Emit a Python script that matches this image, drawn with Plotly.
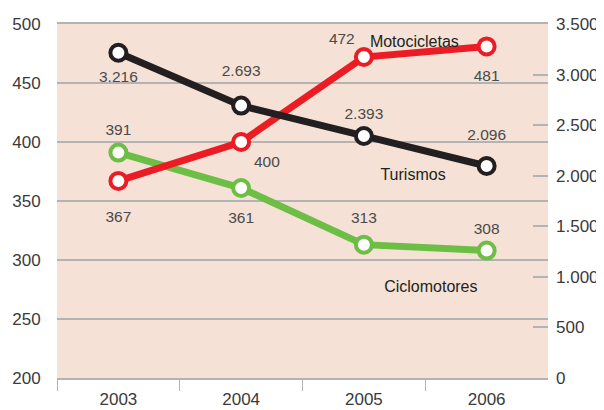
import plotly.graph_objects as go

years = ["2003", "2004", "2005", "2006"]
motocicletas = [367, 400, 472, 481]
ciclomotores = [391, 361, 313, 308]
turismos = [3216, 2693, 2393, 2096]
series_names = ["Turismos", "Motocicletas", "Ciclomotores"]

left_ticks = [200, 250, 300, 350, 400, 450, 500]
right_ticks = [0, 500, 1000, 1500, 2000, 2500, 3000, 3500]

RED = "#ec1c24"
GREEN = "#6dbe45"
BLACK = "#231f20"
BG = "#f5e1d6"
GRID = "#b3b3b3"
TXT = "#4a4a4a"
TICK = "#3a3a3a"
FONT = "Liberation Sans, Arial, sans-serif"
NB = "\u00a0"

# label placement styles (invisible marker size sets the text offset)
t_pos = ["bottom center", "top center", "top center", "top center"]
t_pad = [27, 39, 20, 34]
m_pos = ["bottom center", "bottom right", "top left", "bottom center"]
m_pad = [46, 19, 13, 35]
c_pos = ["top center", "bottom center", "top center", "top center"]
c_pad = [21, 35, 27, 19]


def fmt(v):
    return f"{v:,}".replace(",", ".")


fig = go.Figure()


def add_series(vals, color, yaxis):
    fig.add_trace(go.Scatter(
        x=years, y=vals, yaxis=yaxis, mode="lines+markers",
        line=dict(color=color, width=7),
        marker=dict(size=16, color="white", line=dict(color=color, width=4)),
        hoverinfo="skip", showlegend=False, cliponaxis=False,
    ))


def add_labels(vals, yaxis, pos, pad):
    fig.add_trace(go.Scatter(
        x=years, y=vals, yaxis=yaxis, mode="markers+text",
        text=[fmt(v) for v in vals], textposition=pos,
        textfont=dict(family=FONT, size=15.5, color=TXT),
        marker=dict(size=pad, color="rgba(0,0,0,0)", line=dict(width=0)),
        hoverinfo="skip", showlegend=False, cliponaxis=False,
    ))


def add_name(idx, vals, yaxis, text, pos, pad):
    fig.add_trace(go.Scatter(
        x=[years[idx]], y=[vals[idx]], yaxis=yaxis, mode="markers+text",
        text=[text], textposition=pos,
        textfont=dict(family=FONT, size=16, color=BLACK),
        marker=dict(size=pad, color="rgba(0,0,0,0)", line=dict(width=0)),
        hoverinfo="skip", showlegend=False, cliponaxis=False,
    ))


add_series(turismos, BLACK, "y2")
add_series(ciclomotores, GREEN, "y")
add_series(motocicletas, RED, "y")
add_labels(turismos, "y2", t_pos, t_pad)
add_labels(motocicletas, "y", m_pos, m_pad)
add_labels(ciclomotores, "y", c_pos, c_pad)

add_name(3, turismos, "y2", NB + "<br>" + series_names[0], "middle left", 64)
add_name(2, motocicletas, "y", series_names[1], "top right", 8)
add_name(3, ciclomotores, "y", NB + "<br>" + series_names[2], "bottom left", 13)

# boundary ticks between year categories (none at the right edge)
boundaries = [i - 0.5 for i in range(len(years))]
fig.add_trace(go.Scatter(x=[], y=[], xaxis="x2", yaxis="y", mode="markers",
                         showlegend=False, hoverinfo="skip"))

fig.update_layout(
    width=596, height=402,
    margin=dict(l=49, r=56, t=16, b=32),
    paper_bgcolor="white", plot_bgcolor=BG,
    separators=",.",
    font=dict(family=FONT, color=TXT),
    xaxis=dict(
        type="category", range=[-0.5, 3.5], automargin=False,
        showgrid=False, showline=True, mirror=True, linecolor=GRID, linewidth=1.5,
        ticks="", ticklabelstandoff=5,
        tickfont=dict(size=17, color=TICK), fixedrange=True,
    ),
    xaxis2=dict(
        type="linear", range=[-0.5, 3.5], overlaying="x", anchor="y", side="bottom",
        automargin=False, showgrid=False, showline=False, zeroline=False,
        tickvals=boundaries, showticklabels=False,
        ticks="outside", ticklen=12, tickcolor=GRID, tickwidth=1.2,
    ),
    yaxis=dict(
        range=[200, 500], tickvals=left_ticks, ticktext=[str(v) for v in left_ticks],
        automargin=False,
        showgrid=True, gridcolor=GRID, gridwidth=1.5, zeroline=False,
        showline=False, ticks="outside", ticklen=12, tickcolor="rgba(0,0,0,0)",
        tickfont=dict(size=17, color=TICK),
    ),
    yaxis2=dict(
        range=[0, 3500], tickvals=right_ticks, ticktext=[fmt(v) for v in right_ticks],
        automargin=False,
        overlaying="y", side="right", showgrid=False, zeroline=False, showline=False,
        ticks="inside", ticklen=15, tickcolor=GRID, tickwidth=1.5,
        ticklabelstandoff=7,
        tickfont=dict(size=17, color=TICK),
    ),
)

fig.write_html("out.html")
